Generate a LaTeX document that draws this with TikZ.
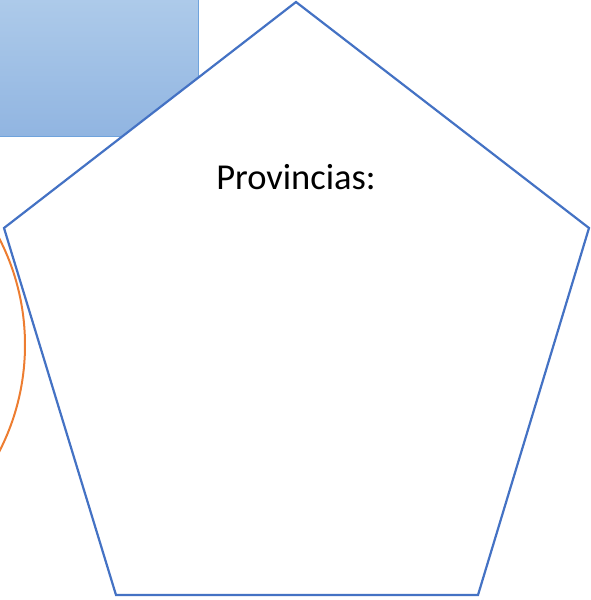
\documentclass[tikz,border=0pt]{standalone}
\usepackage{fontspec}
\setmainfont{Carlito}
\usetikzlibrary{positioning}
\definecolor{penblue}{HTML}{4472C4}
\definecolor{orange}{HTML}{ED7D31}
\definecolor{boxtop}{HTML}{AECBEA}
\definecolor{boxbot}{HTML}{91B5E1}
\definecolor{boxline}{HTML}{6FA3DC}

\begin{document}
\begin{tikzpicture}[x=1pt, y=-1pt,
  box/.style={top color=boxtop, bottom color=boxbot, draw=boxline, line width=0.8pt},
  ring/.style={draw=orange, line width=2pt},
  pent/.style={draw=penblue, fill=white, line width=2.2pt, line join=miter},
  label/.style={font=\fontsize{36.5}{42}\selectfont, text=black}]
  \useasboundingbox (0,0) rectangle (591,600);
  % Define shapes
  \fill[box] (-5,-5) rectangle (198,136);
  \draw[ring] (-208,345) circle (233);
  \coordinate (top) at (296,2);
  \coordinate (right) at (589,228);
  \coordinate (bright) at (478,595);
  \coordinate (bleft) at (116,595);
  \coordinate (left) at (4,228);
  \draw[pent] (top) -- (right) -- (bright) -- (bleft) -- (left) -- cycle;
  % Text
  \node[label, anchor=base] (prov) at (296,189) {Provincias:};
\end{tikzpicture}
\end{document}
